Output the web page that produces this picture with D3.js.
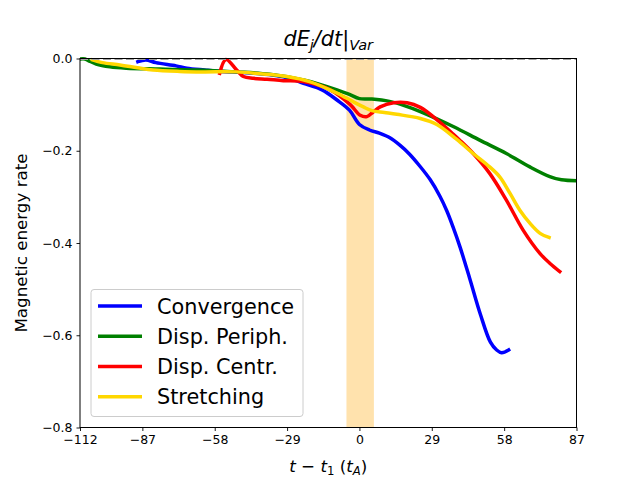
<!DOCTYPE html>
<html>
<head>
<meta charset="utf-8">
<script src="https://cdn.jsdelivr.net/npm/d3@7"></script>
<style>
  html, body { margin: 0; padding: 0; background: #fff; }
  svg { display: block; font-family: "DejaVu Sans", sans-serif; }
</style>
</head>
<body>
<svg id="chart" width="640" height="480"></svg>
<script>
// ---- data ----
const xTicks = [-112, -87, -58, -29, 0, 29, 58, 87];
const yTicks = [-0.8, -0.6, -0.4, -0.2, 0.0];
const band = [-5.2, 5.8];

const seriesNames = ["Convergence", "Disp. Periph.", "Disp. Centr.", "Stretching"];
const seriesColors = ["#0000ff", "#008000", "#ff0000", "#ffd700"];

const convT = [-88.8, -85.6, -81.6, -73.5, -69.2, -62, -55.8, -45, -35, -28, -22.4, -15, -9, -4, 0, 4, 8, 12.2, 16.2, 20, 24, 28.4, 32.2, 35, 37.5, 40.4, 44.2, 48.5, 52.5, 55, 57, 59.8];
const convY = [-0.007, -0.003, -0.009, -0.016, -0.021, -0.025, -0.028, -0.031, -0.036, -0.043, -0.054, -0.068, -0.09, -0.112, -0.143, -0.155, -0.162, -0.172, -0.188, -0.207, -0.232, -0.263, -0.298, -0.33, -0.365, -0.41, -0.477, -0.555, -0.615, -0.632, -0.638, -0.632];

const periT = [-112, -110, -108.5, -105.5, -100, -93.5, -80, -65, -50, -36, -22, -9, -4, 0, 5, 12, 18, 24.4, 37.8, 48.2, 58.9, 68.3, 76.3, 81, 87];
const periY = [-0.001, -0.001, -0.005, -0.012, -0.018, -0.021, -0.023, -0.025, -0.029, -0.034, -0.047, -0.068, -0.078, -0.087, -0.088, -0.093, -0.102, -0.115, -0.148, -0.177, -0.206, -0.235, -0.256, -0.263, -0.265];

const centT = [-56, -53.5, -49.2, -46.5, -42.5, -37, -30.5, -22.6, -11.7, -3.7, 0.3, 3.0, 5.5, 8.3, 13.7, 19.1, 24.4, 31.1, 37.8, 40.2, 45.6, 52.2, 58.9, 65.6, 72.4, 76.5, 80.3];
const centY = [-0.032, -0.002, -0.025, -0.039, -0.043, -0.045, -0.048, -0.050, -0.068, -0.100, -0.123, -0.126, -0.116, -0.105, -0.096, -0.096, -0.106, -0.133, -0.165, -0.177, -0.206, -0.249, -0.307, -0.372, -0.423, -0.445, -0.462];

const strT = [-107, -103, -96, -89, -82.7, -72, -62.7, -49.2, -40, -29.1, -20, -9, -2.4, 1.6, 5, 10, 15, 24.4, 31, 38.9, 45.6, 52.2, 56.3, 60.3, 64.3, 68.3, 72.4, 76];
const strY = [-0.003, -0.009, -0.014, -0.020, -0.025, -0.028, -0.029, -0.029, -0.033, -0.039, -0.050, -0.075, -0.094, -0.105, -0.113, -0.117, -0.121, -0.130, -0.143, -0.175, -0.206, -0.235, -0.257, -0.292, -0.329, -0.357, -0.379, -0.388];

const seriesT = [convT, periT, centT, strT];
const seriesY = [convY, periY, centY, strY];

// ---- layout ----
const svg = d3.select("#chart");
const L = 80, R = 576.5, T = 58.5, B = 427.5;
const x = d3.scaleLinear().domain([-112, 87]).range([L, R]);
const y = d3.scaleLinear().domain([-0.8, 0.0]).range([B, T]);

svg.append("defs").append("clipPath").attr("id", "clip")
  .append("rect").attr("x", L).attr("y", T - 2).attr("width", R - L).attr("height", B - T + 2);

// band
svg.append("rect")
  .attr("x", x(band[0])).attr("y", T)
  .attr("width", x(band[1]) - x(band[0])).attr("height", B - T)
  .attr("fill", "#ffa500").attr("fill-opacity", 0.32);

// lines
const line = d3.line().x(d => x(d[0])).y(d => y(d[1])).curve(d3.curveCatmullRom.alpha(0.5));
const plot = svg.append("g").attr("clip-path", "url(#clip)");
seriesNames.forEach((name, i) => {
  const pts = seriesT[i].map((t, j) => [t, seriesY[i][j]]);
  plot.append("path").datum(pts)
    .attr("d", line)
    .attr("fill", "none")
    .attr("stroke", seriesColors[i])
    .attr("stroke-width", 3.5)
    .attr("stroke-linejoin", "round")
    .attr("stroke-linecap", "square");
});

// dashed zero line
svg.append("line")
  .attr("x1", L).attr("x2", R).attr("y1", y(0) + 0.6).attr("y2", y(0) + 0.6)
  .attr("stroke", "#a0a0a0").attr("stroke-width", 1.6)
  .attr("stroke-dasharray", "8,3.5");

// axes
const xAxis = d3.axisBottom(x).tickValues(xTicks).tickSize(3.5).tickPadding(4)
  .tickFormat(d => d3.format("d")(d).replace("-", "\u2212"));
const yAxis = d3.axisLeft(y).tickValues(yTicks).tickSize(3.5).tickPadding(4)
  .tickFormat(d => d3.format(".1f")(d).replace("-", "\u2212"));

const gx = svg.append("g").attr("transform", `translate(0,${B})`).call(xAxis);
const gy = svg.append("g").attr("transform", `translate(${L},0)`).call(yAxis);
[gx, gy].forEach(g => {
  g.select(".domain").remove();
  g.selectAll(".tick line").attr("stroke", "#000").attr("stroke-width", 0.9);
  g.selectAll(".tick text").attr("font-size", 12.5).attr("fill", "#000")
    .attr("font-family", "DejaVu Sans");
});

// spines
svg.append("rect").attr("x", L).attr("y", T).attr("width", R - L).attr("height", B - T)
  .attr("fill", "none").attr("stroke", "#000").attr("stroke-width", 1);

// title
const title = svg.append("text").attr("x", (L + R) / 2).attr("y", 46)
  .attr("text-anchor", "middle").attr("font-size", 20.8).attr("font-style", "italic");
title.append("tspan").text("dE");
title.append("tspan").attr("font-size", 14.5).attr("dy", 4).text("j");
title.append("tspan").attr("dy", -4).text("/dt|");
title.append("tspan").attr("font-size", 14.5).attr("dy", 4).text("Var");

// x label
const xl = svg.append("text").attr("x", (L + R) / 2).attr("y", 472)
  .attr("text-anchor", "middle").attr("font-size", 16.7);
xl.append("tspan").attr("font-style", "italic").text("t");
xl.append("tspan").text(" \u2212 ");
xl.append("tspan").attr("font-style", "italic").text("t");
xl.append("tspan").attr("font-size", 11.7).attr("dy", 3).text("1");
xl.append("tspan").attr("dy", -3).text(" (");
xl.append("tspan").attr("font-style", "italic").text("t");
xl.append("tspan").attr("font-size", 11.7).attr("dy", 3).attr("font-style", "italic").text("A");
xl.append("tspan").attr("dy", -3).text(")");

// y label
svg.append("text").attr("transform", `translate(27,${(T + B) / 2}) rotate(-90)`)
  .attr("text-anchor", "middle").attr("font-size", 16.7).text("Magnetic energy rate");

// legend
const lg = svg.append("g");
lg.append("rect").attr("x", 91).attr("y", 289.5).attr("width", 212).attr("height", 127)
  .attr("rx", 3).attr("fill", "#fff").attr("fill-opacity", 0.8)
  .attr("stroke", "#cccccc").attr("stroke-width", 1);
const rowY = d3.scaleLinear().domain([0, 3]).range([306, 396.7]);
seriesNames.forEach((name, i) => {
  lg.append("line").attr("x1", 98).attr("x2", 142).attr("y1", rowY(i)).attr("y2", rowY(i))
    .attr("stroke", seriesColors[i]).attr("stroke-width", 3.5);
  lg.append("text").attr("x", 157).attr("y", rowY(i) + 7.5).attr("font-size", 20.8)
    .attr("fill", "#000").text(name);
});
</script>
</body>
</html>
